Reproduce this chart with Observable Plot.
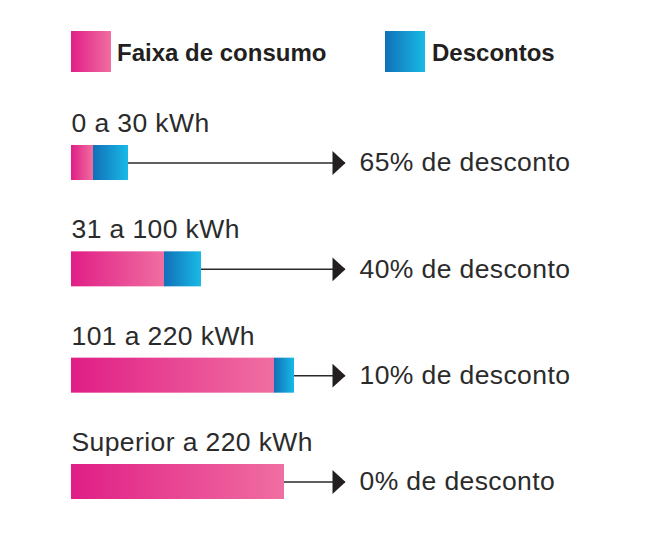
<!DOCTYPE html>
<html>
<head>
<meta charset="utf-8">
<script src="https://cdn.jsdelivr.net/npm/d3@7"></script>
<script src="https://cdn.jsdelivr.net/npm/@observablehq/plot@0.6"></script>
<style>
  html, body { margin: 0; padding: 0; background: #ffffff; }
  #wrap { width: 657px; font-family: "Liberation Sans", Arial, Helvetica, sans-serif; color: #231f20; }
  #legend { position: relative; width: 657px; height: 90px; }
  .sw { position: absolute; top: 31px; width: 40px; height: 41px; }
  .lt { position: absolute; top: 41px; font-weight: bold; font-size: 24px; line-height: 24px; white-space: nowrap; color: #231f20; }
  #chart text { letter-spacing: 0.4px; }
</style>
</head>
<body>
<div id="wrap">
  <div id="legend">
    <div class="sw" style="left:71px;background:linear-gradient(to right,#e01e86,#f06ea1)"></div>
    <div class="lt" style="left:117px">Faixa de consumo</div>
    <div class="sw" style="left:385px;background:linear-gradient(to right,#1170b8,#18bae6)"></div>
    <div class="lt" style="left:432px">Descontos</div>
  </div>
  <div id="chart"></div>
</div>
<script>
// Categories (consumption ranges) and discount labels
const faixas = ["0 a 30 kWh", "31 a 100 kWh", "101 a 220 kWh", "Superior a 220 kWh"];
const descontos = ["65% de desconto", "40% de desconto", "10% de desconto", "0% de desconto"];
// Bar lengths (arbitrary units)
const consumo = [22, 93, 203, 213];
const desconto = [35, 37, 20, 0];
// Where every arrow ends (same units)
const arrowEnd = [274, 274, 274, 274];

const rows = faixas.map((f, i) => ({
  faixa: f,
  label: descontos[i],
  c: consumo[i],
  d: desconto[i],
  end: arrowEnd[i]
}));

// Filled arrow head pointing right, tip at the anchor point
const arrowHead = {
  draw(context, size) {
    const r = Math.sqrt(size / Math.PI);
    const w = r, h = r * 0.92;
    context.moveTo(0, 0);
    context.lineTo(-w, -h);
    context.lineTo(-w, h);
    context.closePath();
  }
};

const ink = "#231f20";
const textInk = "#2b2b2b";

const svg = Plot.plot({
  width: 657,
  height: 455,
  marginLeft: 71,
  marginRight: 312,
  marginTop: 55,
  marginBottom: 46,
  x: { domain: [0, 274], axis: null },
  y: { domain: faixas, axis: null, paddingInner: 0.6707, paddingOuter: 0, round: false },
  style: { fontFamily: "'Liberation Sans', Arial, Helvetica, sans-serif", background: "#ffffff", color: ink, overflow: "visible" },
  marks: [
    Plot.ruleY(rows, { y: "faixa", x1: d => d.c + d.d, x2: "end", stroke: "#2a2a2a", strokeWidth: 1.5 }),
    Plot.barX(rows, { y: "faixa", x1: 0, x2: "c", fill: "url(#gradPink)" }),
    Plot.barX(rows.filter(d => d.d > 0), { y: "faixa", x1: "c", x2: d => d.c + d.d, fill: "url(#gradBlue)" }),
    Plot.dot(rows, { y: "faixa", x: "end", symbol: arrowHead, r: 13, fill: ink, stroke: "none" }),
    Plot.text(rows, { y: "faixa", x: 0, text: "faixa", textAnchor: "start", lineAnchor: "bottom", dy: -31, fontSize: 26.5, fill: textInk }),
    Plot.text(rows, { y: "faixa", x: "end", dx: 14, text: "label", textAnchor: "start", lineAnchor: "middle", fontSize: 26.5, fill: textInk })
  ]
});

const ns = "http://www.w3.org/2000/svg";
const defs = document.createElementNS(ns, "defs");
defs.innerHTML =
  '<linearGradient id="gradPink" x1="0" y1="0" x2="1" y2="0">' +
  '<stop offset="0" stop-color="#e01e86"/><stop offset="1" stop-color="#f06ea1"/></linearGradient>' +
  '<linearGradient id="gradBlue" x1="0" y1="0" x2="1" y2="0">' +
  '<stop offset="0" stop-color="#1170b8"/><stop offset="1" stop-color="#18bae6"/></linearGradient>';
svg.insertBefore(defs, svg.firstChild);
svg.style.display = "block";
document.getElementById("chart").appendChild(svg);
</script>
</body>
</html>
